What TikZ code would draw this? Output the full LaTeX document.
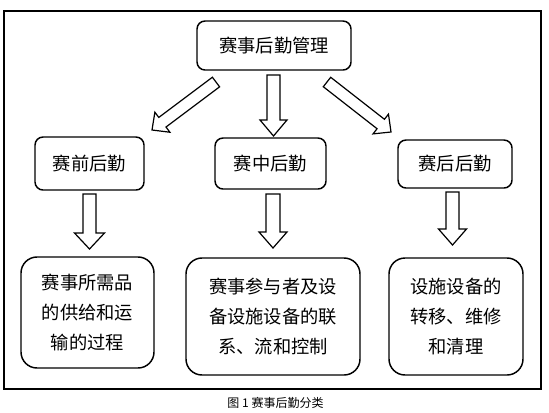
\documentclass[tikz,border=0pt]{standalone}
\usepackage{fontspec}
\setmainfont{Noto Sans CJK SC}
\usetikzlibrary{calc}
\newcommand{\blockarrow}[5]{%
  \coordinate (bac) at ($(#2)!#5!(#1)$);
  \draw[barrow] ($(#1)!#3!90:(#2)$) -- ($(bac)!#3!90:(#2)$) -- ($(bac)!#4!90:(#2)$) -- (#2)
    -- ($(bac)!#4!-90:(#2)$) -- ($(bac)!#3!-90:(#2)$) -- ($(#1)!#3!-90:(#2)$) -- cycle;}
\tikzset{
  boxa/.style={draw, line width=1.1pt, rounded corners=6pt, inner sep=0pt, align=center,
    font=\fontsize{13.7}{22.5}\selectfont},
  boxb/.style={boxa, rounded corners=12pt},
  barrow/.style={draw, fill=white, line width=0.9pt, line join=miter},
  frame/.style={draw, line width=0.8pt}
}
\begin{document}
\begin{tikzpicture}[x=0.75pt,y=-0.75pt]
\useasboundingbox (0,0) rectangle (549,412);
\draw[frame] (4,11) rectangle (541,389);

\node[boxa, minimum width=115.5pt, minimum height=36.75pt] (T) at (274,45.5) {赛事后勤管理};
\node[boxa, minimum width=81.75pt, minimum height=39.75pt] (L1) at (89.5,163.5) {赛前后勤};
\node[boxa, minimum width=83.25pt, minimum height=38.25pt] (M1) at (270.5,163.5) {赛中后勤};
\node[boxa, minimum width=85.5pt, minimum height=36pt] (R1) at (455,164) {赛后后勤};

\node[boxb, minimum width=99.75pt, minimum height=83.25pt] (L2) at (87.5,312.5) {赛事所需品\\的供给和运\\输的过程};
\node[boxb, minimum width=130.5pt, minimum height=87.75pt] (M2) at (273,316.5) {赛事参与者及设\\备设施设备的联\\系、流和控制};
\node[boxb, minimum width=100.5pt, minimum height=87.75pt] (R2) at (456,316.5) {设施设备的\\转移、维修\\和清理};

\coordinate (ta) at (273.5,75);   \coordinate (tb) at (273.5,136);
\coordinate (la) at (216,82);     \coordinate (lb) at (152,130);
\coordinate (ra) at (327,82);     \coordinate (rb) at (391,132);
\coordinate (da) at (89.5,194);   \coordinate (db) at (89.5,249);
\coordinate (ea) at (273,194);    \coordinate (eb) at (273,248);
\coordinate (fa) at (452.5,192);  \coordinate (fb) at (452.5,245);

\blockarrow{ta}{tb}{4.875pt}{10.125pt}{12pt}
\blockarrow{la}{lb}{4.5pt}{9.4pt}{9.75pt}
\blockarrow{ra}{rb}{4.5pt}{9.4pt}{9.75pt}
\blockarrow{da}{db}{4.875pt}{11.25pt}{12pt}
\blockarrow{ea}{eb}{5.25pt}{10.5pt}{12pt}
\blockarrow{fa}{fb}{4.875pt}{10.5pt}{12pt}

\node[font=\fontsize{9}{11}\selectfont, inner sep=0pt] (cap) at (275.5,403) {图 1 赛事后勤分类};
\end{tikzpicture}
\end{document}
